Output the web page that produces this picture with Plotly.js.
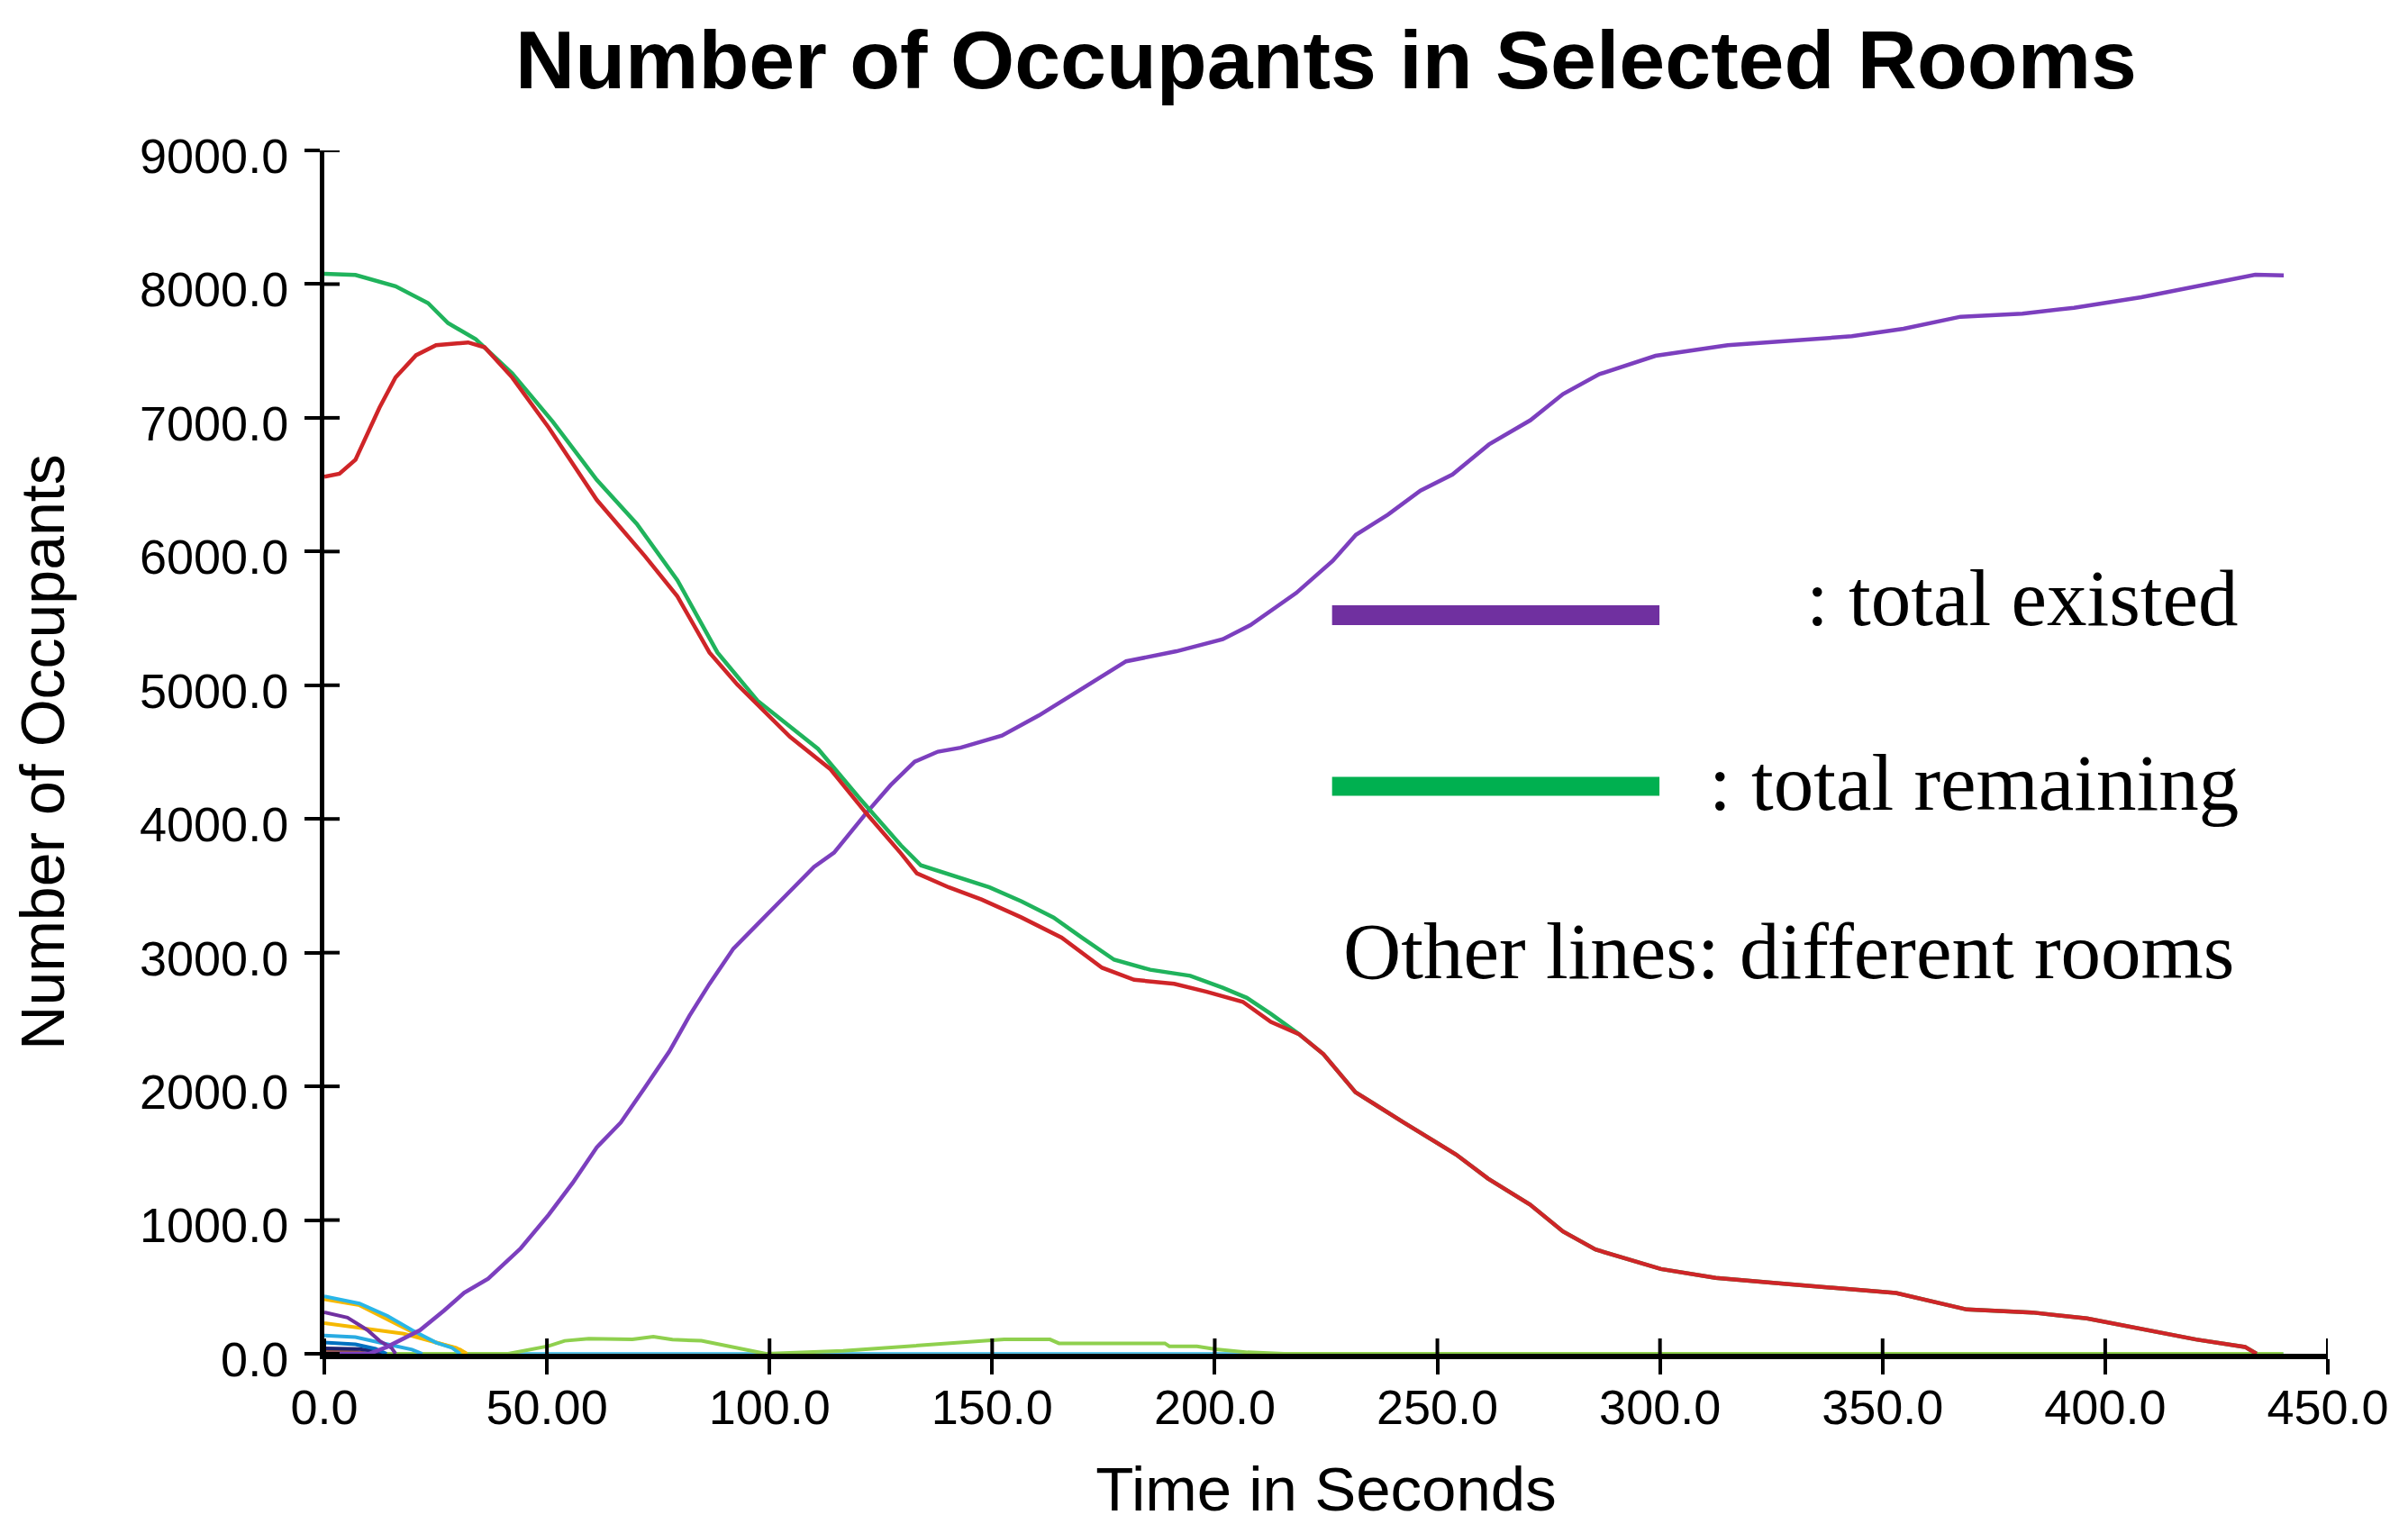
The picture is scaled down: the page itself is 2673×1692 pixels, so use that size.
<!DOCTYPE html>
<html>
<head>
<meta charset="utf-8">
<script src="https://cdn.plot.ly/plotly-3.0.1.min.js"></script>
<style>
  html, body { margin: 0; padding: 0; background: #ffffff; }
  #chart { width: 2673px; height: 1692px; }
</style>
</head>
<body>
<div id="chart"></div>
<script>
// ---------------- DATA ----------------
const chartTitle = "Number of Occupants in Selected Rooms";
const xTitle = "Time in Seconds";
const yTitle = "Number of Occupants";

const xTickVals = [0, 50, 100, 150, 200, 250, 300, 350, 400, 450];
const xTickText = ["0.0", "50.00", "100.0", "150.0", "200.0", "250.0", "300.0", "350.0", "400.0", "450.0"];
const yTickVals = [0, 1000, 2000, 3000, 4000, 5000, 6000, 7000, 8000, 9000];
const yTickText = ["0.0", "1000.0", "2000.0", "3000.0", "4000.0", "5000.0", "6000.0", "7000.0", "8000.0", "9000.0"];

// total exited (purple)
const exitedT = [0, 10, 14, 16, 21.5, 26.9, 31.4, 36.8, 44.1, 50.4, 55.8, 61.2, 66.6, 72.1, 77.5, 82, 86.5, 91.9, 97.3, 103.7, 110, 114.5, 121.7, 127.2, 132.6, 137.8, 142.9, 152.2, 160.5, 170.8, 180.1, 191.4, 201.8, 208, 218.3, 226.5, 231.7, 238.9, 246.2, 253.4, 261.6, 270.9, 278.2, 286.4, 299, 315.2, 329.2, 343.1, 354.7, 367.5, 381.4, 393, 408.1, 422.1, 433.7, 440.1];
const exitedV = [0, 0, 50, 84, 177, 323, 456, 562, 788, 1040, 1279, 1544, 1730, 1996, 2261, 2527, 2766, 3031, 3217, 3429, 3642, 3748, 4043, 4253, 4428, 4503, 4533, 4623, 4774, 4984, 5179, 5254, 5344, 5450, 5690, 5930, 6125, 6276, 6456, 6576, 6801, 6982, 7177, 7327, 7464, 7543, 7577, 7610, 7666, 7756, 7779, 7823, 7902, 7992, 8070, 8066];

// total remaining (green)
const remainT = [0, 7, 16, 23.3, 27.8, 34, 42.2, 51.3, 61.2, 70.2, 79.3, 88.3, 97.3, 110.9, 120, 129.5, 134, 141.2, 149.4, 156.6, 163.8, 170.2, 177.4, 185.5, 194.5, 201.8, 207.2, 212.6, 218.9, 224.4, 231.6, 242.4, 254.2, 261.4, 270.8, 278.2, 285.5, 300.2, 312.5, 328.4, 340.7, 353, 368.9, 383.6, 395.9, 408.2, 420.4, 431.4, 434];
const remainV = [8077, 8068, 7984, 7858, 7708, 7588, 7333, 6972, 6536, 6206, 5786, 5245, 4884, 4524, 4163, 3803, 3653, 3578, 3488, 3383, 3263, 3112, 2947, 2872, 2827, 2737, 2662, 2542, 2391, 2241, 1956, 1731, 1490, 1310, 1116, 915, 780, 634, 567, 522, 488, 455, 331, 309, 264, 186, 107, 51, 0];

// red series
const redT = [0, 3.4, 7, 12.4, 16, 20.6, 25.1, 32.3, 36, 42.2, 50.4, 61.2, 72, 79.3, 86.5, 92.8, 104.6, 113.6, 121.7, 129.5, 133.1, 140.3, 147.6, 156.6, 165.6, 174.7, 181.9, 190.9, 198.2, 206.3, 212.6, 218.9, 224.4, 231.6, 242.4, 254.2, 261.4, 270.8, 278.2, 285.5, 300.2, 312.5, 328.4, 340.7, 353, 368.9, 383.6, 395.9, 408.2, 420.4, 431.4, 434];
const redV = [6560, 6582, 6687, 7077, 7302, 7468, 7543, 7564, 7528, 7302, 6927, 6386, 5966, 5665, 5245, 5004, 4614, 4374, 4043, 3743, 3593, 3488, 3398, 3263, 3112, 2887, 2797, 2767, 2707, 2632, 2482, 2391, 2241, 1956, 1731, 1490, 1310, 1116, 915, 780, 634, 567, 522, 488, 455, 331, 309, 264, 186, 107, 51, 0];

// individual rooms (small lines near the time axis)
const roomCyanT = [0, 7.9, 14.2, 19.7, 25.1, 28.7, 30.5];
const roomCyanV = [429, 376, 283, 177, 84, 44, 0];
const roomYellowAT = [0, 7.9, 14.2, 19.7, 25.1, 30.5, 32];
const roomYellowAV = [408, 363, 257, 164, 84, 31, 0];
const roomPurpleT = [0, 5.2, 9.7, 12.4, 15.1, 16];
const roomPurpleV = [310, 270, 177, 97, 44, 0];
const roomYellowBT = [0, 8.8, 17.9, 25.1, 29.6, 32];
const roomYellowBV = [230, 190, 150, 84, 44, 0];
const roomSkyT = [0, 7, 14.2, 19.7, 22];
const roomSkyV = [137, 124, 71, 31, 0];
const roomBlueT = [0, 7, 11.5, 14];
const roomBlueV = [84, 71, 37, 0];
const roomNavyT = [0, 8, 11, 13];
const roomNavyV = [40, 35, 20, 0];
const roomBrownT = [0, 6, 10];
const roomBrownV = [25, 20, 0];
const roomGreenT = [0, 41.3, 50.4, 54, 59.4, 69.2, 73.9, 78.2, 84.7, 89, 92.8, 99.2, 116.5, 124.8, 132, 137.2, 144.4, 152.7, 163, 165, 188.8, 189.8, 196, 200.2, 207.4, 215.6, 440];
const roomGreenV = [0, 0, 58, 97, 112, 108, 128, 106, 97, 68, 48, 0, 22, 40, 56, 71, 89, 107, 107, 78, 78, 56, 56, 34, 11, 0, 0];
const roomZeroT = [0, 440];
const roomZeroV = [0, 0];

const legendLabels = [": total existed", ": total remaining", "Other lines: different rooms"];

// ---------------- STYLE ----------------
const sans = "Arial, 'Liberation Sans', Helvetica, sans-serif";
const serif = "'Times New Roman', 'Liberation Serif', serif";
const LW = 4.5;
const RW = 4;

function line(x, y, color, width) {
  return {
    x: x, y: y, type: 'scatter', mode: 'lines',
    line: { color: color, width: width, shape: 'linear' },
    hoverinfo: 'skip', showlegend: false
  };
}

const traces = [
  line(roomZeroT, roomZeroV, '#5BC4E8', RW),
  line(roomGreenT, roomGreenV, '#8FD04E', RW),
  line(roomBrownT, roomBrownV, '#9C5A3C', RW),
  line(roomNavyT, roomNavyV, '#1F2270', RW),
  line(roomBlueT, roomBlueV, '#0070C0', RW),
  line(roomSkyT, roomSkyV, '#29ABE2', RW),
  line(roomYellowBT, roomYellowBV, '#F5B800', RW),
  line(roomPurpleT, roomPurpleV, '#7030A0', RW),
  line(roomYellowAT, roomYellowAV, '#F5B800', RW),
  line(roomCyanT, roomCyanV, '#29B6E8', RW),
  line(exitedT, exitedV, '#7C3FBE', LW),
  line(remainT, remainV, '#20B35C', LW),
  line(redT, redV, '#CF2528', LW)
];

// inner half of the crossing tick marks (the outer half is drawn by the axes)
const TICK_IN = 17;
const tickShapes = []
  .concat(xTickVals.map(v => ({
    type: 'line', xref: 'x', yref: 'paper', ysizemode: 'pixel', yanchor: 0,
    x0: v, x1: v, y0: 0, y1: TICK_IN, line: { color: '#000000', width: 4 }, layer: 'above'
  })))
  .concat(yTickVals.map(v => ({
    type: 'line', xref: 'paper', yref: 'y', xsizemode: 'pixel', xanchor: 0,
    x0: 0, x1: TICK_IN, y0: v, y1: v, line: { color: '#000000', width: 4 }, layer: 'above'
  })));

const legendShapes = [
  { type: 'line', xref: 'paper', yref: 'paper', x0: 0.503, x1: 0.6664, y0: 0.6138, y1: 0.6138,
    line: { color: '#7030A0', width: 22 } },
  { type: 'line', xref: 'paper', yref: 'paper', x0: 0.503, x1: 0.6664, y0: 0.4716, y1: 0.4716,
    line: { color: '#00B050', width: 21 } }
];

const axisCommon = {
  showgrid: false, zeroline: false, automargin: false, fixedrange: true
};

const layout = {
  width: 2673, height: 1692,
  paper_bgcolor: '#ffffff', plot_bgcolor: '#ffffff',
  margin: { l: 360, r: 89, t: 167, b: 189, pad: 0 },
  showlegend: false,
  title: {
    text: '<b>' + chartTitle + '</b>',
    font: { family: sans, size: 91.5, color: '#000000' },
    x: 0.5, xref: 'paper', xanchor: 'center',
    y: 0.961, yref: 'container', yanchor: 'middle'
  },
  xaxis: Object.assign({}, axisCommon, {
    range: [0, 450],
    showline: true, linecolor: '#000000', linewidth: 6,
    ticks: 'outside', ticklen: 17, tickwidth: 4, tickcolor: '#000000',
    tickmode: 'array', tickvals: xTickVals, ticktext: xTickText,
    tickfont: { family: sans, size: 54, color: '#000000' },
    ticklabelstandoff: -10,
    title: { text: xTitle, font: { family: sans, size: 69, color: '#000000' }, standoff: 45 }
  }),
  yaxis: Object.assign({}, axisCommon, {
    range: [0, 9000],
    showline: true, linecolor: '#000000', linewidth: 5,
    ticks: 'outside', ticklen: 17, tickwidth: 4, tickcolor: '#000000',
    tickmode: 'array', tickvals: yTickVals, ticktext: yTickText,
    tickfont: { family: sans, size: 54, color: '#000000' },
    ticklabelstandoff: 7,
    ticklabelshift: 6,
    title: { text: yTitle, font: { family: sans, size: 68, color: '#000000' }, standoff: 63 }
  }),
  shapes: legendShapes.concat(tickShapes),
  annotations: [
    { text: legendLabels[0], xref: 'paper', yref: 'paper', x: 0.9564, y: 0.628,
      xanchor: 'right', yanchor: 'middle', showarrow: false,
      font: { family: serif, size: 89, color: '#000000' } },
    { text: legendLabels[1], xref: 'paper', yref: 'paper', x: 0.9564, y: 0.4746,
      xanchor: 'right', yanchor: 'middle', showarrow: false,
      font: { family: serif, size: 89, color: '#000000' } },
    { text: legendLabels[2], xref: 'paper', yref: 'paper', x: 0.9542, y: 0.3346,
      xanchor: 'right', yanchor: 'middle', showarrow: false,
      font: { family: serif, size: 89, color: '#000000' } }
  ]
};

Plotly.newPlot('chart', traces, layout, { displayModeBar: false, staticPlot: true });
</script>
</body>
</html>
